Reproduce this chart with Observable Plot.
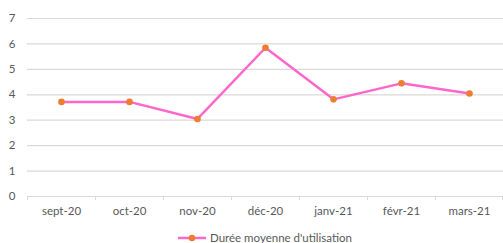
<!DOCTYPE html>
<html>
<head>
<meta charset="utf-8">
<script src="https://cdn.jsdelivr.net/npm/d3@7"></script>
<script src="https://cdn.jsdelivr.net/npm/@observablehq/plot@0.6"></script>
<style>
  html, body { margin: 0; padding: 0; background: #fff; width: 503px; height: 243px; overflow: hidden; }
  #wrap { position: relative; width: 503px; height: 243px; font-family: Lato, "Open Sans", sans-serif; }
  #legend { position: absolute; left: 13px; width: 503px; top: 231px; display: flex; justify-content: center; align-items: center; font-size: 11.5px; color: #595959; }
  #legend svg { margin-right: 3px; }
</style>
</head>
<body>
<div id="wrap">
  <div id="chart"></div>
  <div id="legend"></div>
</div>
<script>
const months = ["sept-20", "oct-20", "nov-20", "déc-20", "janv-21", "févr-21", "mars-21"];
const values = [3.72, 3.72, 3.05, 5.85, 3.82, 4.45, 4.05];
const yTicks = [0, 1, 2, 3, 4, 5, 6, 7];
const seriesName = "Durée moyenne d'utilisation";

const data = months.map((m, i) => ({month: m, value: values[i]}));

const W = 503, H = 228, ML = 27, MR = 0;
const bw = (W - ML - MR) / months.length;
const lineColor = "#ff66cc";
const dotColor = "#ed7d31";

const chart = Plot.plot({
  width: W,
  height: H,
  marginLeft: ML,
  marginRight: MR,
  marginTop: 18,
  marginBottom: 32,
  style: {fontFamily: "Lato, 'Open Sans', sans-serif", fontSize: "11.5px", color: "#595959", background: "#fff"},
  x: {type: "band", domain: months, padding: 0, label: null},
  y: {domain: [0, 7], label: null},
  marks: [
    Plot.gridY(yTicks, {stroke: "#d9d9d9", strokeOpacity: 1, strokeWidth: 1.2}),
    Plot.axisY(yTicks, {tickSize: 0, tickPadding: 12, fill: "#595959", fontSize: 11.5, label: null}),
    Plot.axisX({tickSize: 0, tickPadding: 10, fill: "#595959", fontSize: 11.5, label: null}),
    Plot.ruleY([0], {stroke: "#d9d9d9", strokeWidth: 1.2}),
    Plot.ruleX(months, {x: d => d, y1: 0, y2: -0.16, dx: -bw / 2, stroke: "#d9d9d9"}),
    Plot.ruleX(months.slice(-1), {x: d => d, y1: 0, y2: -0.16, dx: bw / 2 - 1, stroke: "#d9d9d9"}),
    Plot.line(data, {x: "month", y: "value", stroke: lineColor, strokeWidth: 2.5}),
    Plot.dot(data, {x: "month", y: "value", r: 3.3, fill: dotColor, stroke: "none"})
  ]
});
document.getElementById("chart").appendChild(chart);

const legend = document.getElementById("legend");
const sw = d3.create("svg").attr("width", 30).attr("height", 10);
sw.append("line").attr("x1", 1).attr("x2", 29).attr("y1", 5).attr("y2", 5).attr("stroke", lineColor).attr("stroke-width", 2.5);
sw.append("circle").attr("cx", 15).attr("cy", 5).attr("r", 3.3).attr("fill", dotColor);
legend.appendChild(sw.node());
const span = document.createElement("span");
span.textContent = seriesName;
legend.appendChild(span);
</script>
</body>
</html>
